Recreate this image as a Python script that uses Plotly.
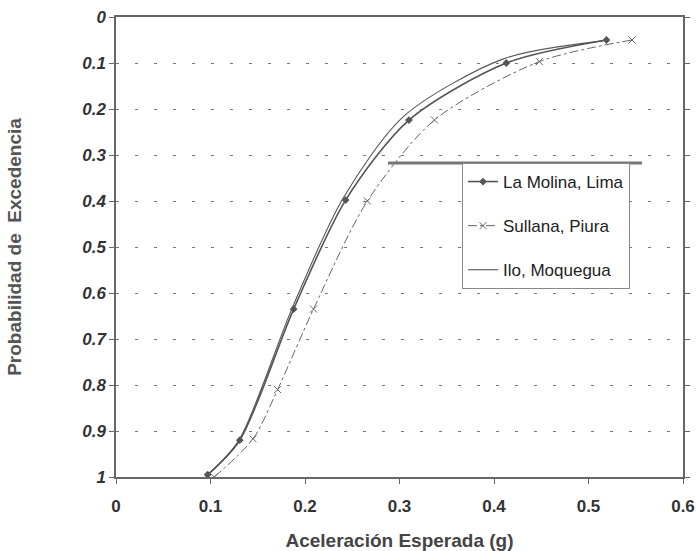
import plotly.graph_objects as go

# Data
molina_x = [0.097, 0.131, 0.188, 0.243, 0.310, 0.413, 0.519]
molina_y = [0.995, 0.920, 0.635, 0.398, 0.224, 0.100, 0.050]

sullana_x = [0.104, 0.145, 0.171, 0.209, 0.266, 0.337, 0.448, 0.546]
sullana_y = [1.000, 0.917, 0.810, 0.635, 0.400, 0.224, 0.097, 0.050]

ilo_x = [0.095, 0.130, 0.186, 0.240, 0.305, 0.410, 0.515]
ilo_y = [1.000, 0.920, 0.635, 0.395, 0.215, 0.091, 0.052]

x_ticks = [0, 0.1, 0.2, 0.3, 0.4, 0.5, 0.6]
x_labels = ["0", "0.1", "0.2", "0.3", "0.4", "0.5", "0.6"]
y_ticks = [0, 0.1, 0.2, 0.3, 0.4, 0.5, 0.6, 0.7, 0.8, 0.9, 1.0]
y_labels = ["0", "0.1", "0.2", "0.3", "0.4", "0.5", "0.6", "0.7", "0.8", "0.9", "1"]

FONT = "Liberation Sans, Arial, sans-serif"

fig = go.Figure()
fig.add_trace(go.Scatter(
    x=molina_x, y=molina_y, name="La Molina, Lima", mode="lines+markers",
    line=dict(color="#555555", width=1.6, shape="spline", smoothing=0.8),
    marker=dict(symbol="diamond", size=6, color="#555555"),
    legendgroup="a"))
fig.add_trace(go.Scatter(
    x=sullana_x, y=sullana_y, name="Sullana, Piura", mode="lines+markers",
    line=dict(color="#666666", width=1, dash="dashdot", shape="spline", smoothing=0.8),
    marker=dict(symbol="x-thin", size=7, color="#666666", line=dict(width=1, color="#666666")),
    legendgroup="b"))
fig.add_trace(go.Scatter(
    x=ilo_x, y=ilo_y, name="Ilo, Moquegua", mode="lines",
    line=dict(color="#555555", width=1.1, shape="spline", smoothing=0.8),
    legendgroup="c"))

L, R, T, B = 116, 13, 17, 74
PW, PH = 696 - L - R, 551 - T - B

fig.update_layout(
    width=696, height=551,
    margin=dict(l=L, r=R, t=T, b=B, autoexpand=False),
    paper_bgcolor="white", plot_bgcolor="white",
    font=dict(family=FONT, color="#222222"),
    showlegend=True,
    legend=dict(
        x=(462 - L) / PW, y=(551 - B - 163) / PH, xanchor="left", yanchor="top",
        bgcolor="white", bordercolor="#888888", borderwidth=1,
        font=dict(size=17, color="#222222", family=FONT),
        tracegroupgap=19, traceorder="grouped",
        itemwidth=30,
    ),
    xaxis=dict(
        range=[0, 0.6], tickvals=x_ticks, ticktext=x_labels,
        showgrid=False, zeroline=False, automargin=False,
        showline=True, linecolor="#666666", linewidth=1.5, mirror=True,
        ticks="outside", ticklen=5, tickcolor="#666666", ticklabelstandoff=8,
        tickfont=dict(size=17, color="#333333", family=FONT, weight="bold"),
        title=dict(text="<b>Aceleración Esperada (g)</b>", font=dict(size=19, color="#444444"), standoff=20),
    ),
    yaxis=dict(
        range=[1, 0], tickvals=y_ticks, ticktext=y_labels,
        showgrid=True, gridcolor="#777777", gridwidth=1, griddash="3px,16px",
        zeroline=False, automargin=False,
        showline=True, linecolor="#666666", linewidth=1.5, mirror="ticks",
        ticks="outside", ticklen=5, tickcolor="#666666",
        tickfont=dict(size=17, color="#333333", family=FONT, weight="bold", style="italic"),
        title=dict(text="<b>Probabilidad de  Excedencia</b>", font=dict(size=19, color="#555555"), standoff=56),
    ),
    shapes=[dict(type="line", xref="paper", yref="paper",
                 x0=(388 - L) / PW, x1=(642 - L) / PW,
                 y0=(551 - B - 163) / PH, y1=(551 - B - 163) / PH,
                 line=dict(color="#777777", width=3))],
)

fig.write_html("out.html")
